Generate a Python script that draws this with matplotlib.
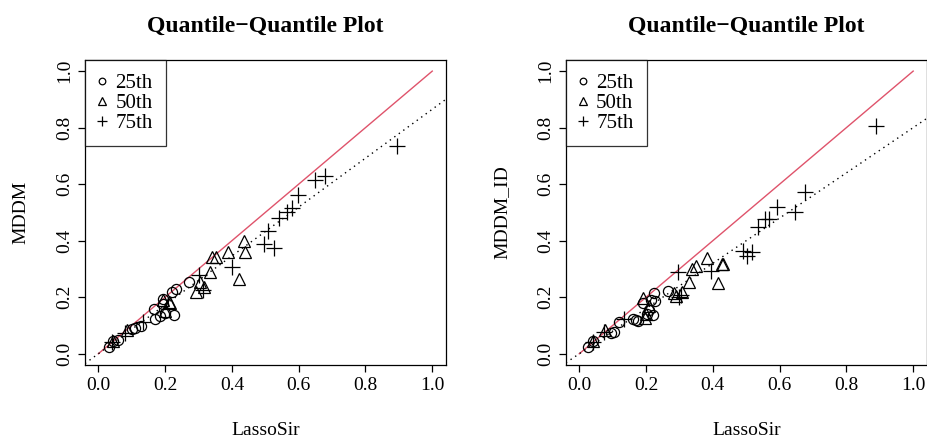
import numpy as np
import matplotlib
matplotlib.use("Agg")
import matplotlib.pyplot as plt

plt.rcParams['font.family'] = ['Liberation Serif', 'DejaVu Serif']

# LassoSir (x) vs MDDM (y), left panel
mddm_25_x = [0.033, 0.045, 0.10, 0.11, 0.128, 0.167, 0.17, 0.185, 0.194, 0.20, 0.227, 0.22, 0.233, 0.27, 0.195, 0.06]
mddm_25_y = [0.025, 0.045, 0.088, 0.09, 0.098, 0.158, 0.123, 0.134, 0.193, 0.144, 0.137, 0.218, 0.228, 0.253, 0.175, 0.05]
mddm_50_x = [0.045, 0.087, 0.195, 0.20, 0.212, 0.215, 0.293, 0.305, 0.317, 0.334, 0.34, 0.352, 0.388, 0.42, 0.436, 0.44]
mddm_50_y = [0.045, 0.085, 0.19, 0.15, 0.183, 0.18, 0.218, 0.254, 0.236, 0.29, 0.342, 0.342, 0.36, 0.264, 0.40, 0.36]
mddm_75_x = [0.04, 0.08, 0.135, 0.30, 0.313, 0.40, 0.495, 0.507, 0.525, 0.54, 0.564, 0.58, 0.597, 0.65, 0.68, 0.893]
mddm_75_y = [0.04, 0.075, 0.113, 0.278, 0.225, 0.306, 0.39, 0.433, 0.373, 0.482, 0.50, 0.517, 0.563, 0.613, 0.63, 0.736]

# LassoSir (x) vs MDDM_ID (y), right panel
id_25_x = [0.027, 0.04, 0.096, 0.105, 0.12, 0.162, 0.17, 0.177, 0.19, 0.204, 0.222, 0.228, 0.216, 0.225, 0.266, 0.21]
id_25_y = [0.025, 0.046, 0.073, 0.077, 0.113, 0.123, 0.12, 0.116, 0.18, 0.141, 0.137, 0.187, 0.19, 0.215, 0.222, 0.155]
id_50_x = [0.04, 0.078, 0.19, 0.198, 0.20, 0.21, 0.284, 0.29, 0.308, 0.329, 0.338, 0.35, 0.383, 0.416, 0.428, 0.431]
id_50_y = [0.046, 0.085, 0.197, 0.127, 0.14, 0.17, 0.215, 0.205, 0.218, 0.253, 0.30, 0.31, 0.338, 0.25, 0.317, 0.317]
id_75_x = [0.04, 0.075, 0.135, 0.296, 0.299, 0.305, 0.395, 0.491, 0.503, 0.518, 0.536, 0.557, 0.569, 0.593, 0.647, 0.677, 0.889]
id_75_y = [0.04, 0.077, 0.123, 0.289, 0.20, 0.208, 0.292, 0.363, 0.345, 0.359, 0.447, 0.475, 0.475, 0.518, 0.50, 0.574, 0.806]

# fitted dotted lines (intercept, slope)
fit_left = (0.0, 0.865)
fit_right = (0.0, 0.80)

ticks = [0.0, 0.2, 0.4, 0.6, 0.8, 1.0]
tick_labels = ['0.0', '0.2', '0.4', '0.6', '0.8', '1.0']


def qq_panel(ax, xs, ys, fit, ylabel):
	ax.plot([0, 1], [0, 1], color='#DF536B', lw=1)
	xx = np.array([-0.04, 1.04])
	ax.plot(xx, fit[0] + fit[1] * xx, color='black', lw=1, linestyle=(0, (1, 3)))
	ax.plot(xs[0], ys[0], 'o', mfc='none', mec='black', ms=7.3, mew=0.9, label='25th')
	ax.plot(xs[1], ys[1], '^', mfc='none', mec='black', ms=8.3, mew=0.9, label='50th')
	ax.plot(xs[2], ys[2], '+', color='black', ms=11, mew=0.9, label='75th')
	ax.set_xlim(-0.04, 1.04)
	ax.set_ylim(-0.04, 1.04)
	ax.set_xticks(ticks)
	ax.set_xticklabels(tick_labels, fontsize=14)
	ax.set_yticks(ticks)
	ax.set_yticklabels(tick_labels, fontsize=14, rotation=90, va='center')
	ax.tick_params(direction='out', length=5, width=0.9, pad=3.5)
	ax.set_xlabel('LassoSir', fontsize=14, labelpad=20.5)
	ax.set_ylabel(ylabel, fontsize=14, labelpad=19)
	ax.set_title('Quantile\u2212Quantile Plot', fontsize=17, fontweight='bold', pad=20)
	for s in ax.spines.values():
		s.set_linewidth(0.9)
	leg = ax.legend(loc='upper left', fontsize=15, frameon=True, fancybox=False,
		borderaxespad=0, handlelength=0.3, handletextpad=0.5, labelspacing=0.02,
		borderpad=0.65, markerscale=0.65)
	leg.get_frame().set_edgecolor('black')
	leg.get_frame().set_linewidth(0.9)


fig = plt.figure(figsize=(9.27, 4.43), dpi=100)
ax1 = fig.add_axes([0.0917, 0.176, 0.389, 0.689])
ax2 = fig.add_axes([0.6105, 0.176, 0.389, 0.689])

qq_panel(ax1, [mddm_25_x, mddm_50_x, mddm_75_x], [mddm_25_y, mddm_50_y, mddm_75_y], fit_left, 'MDDM')
qq_panel(ax2, [id_25_x, id_50_x, id_75_x], [id_25_y, id_50_y, id_75_y], fit_right, 'MDDM_ID')

fig.savefig('out.png', dpi=100)
